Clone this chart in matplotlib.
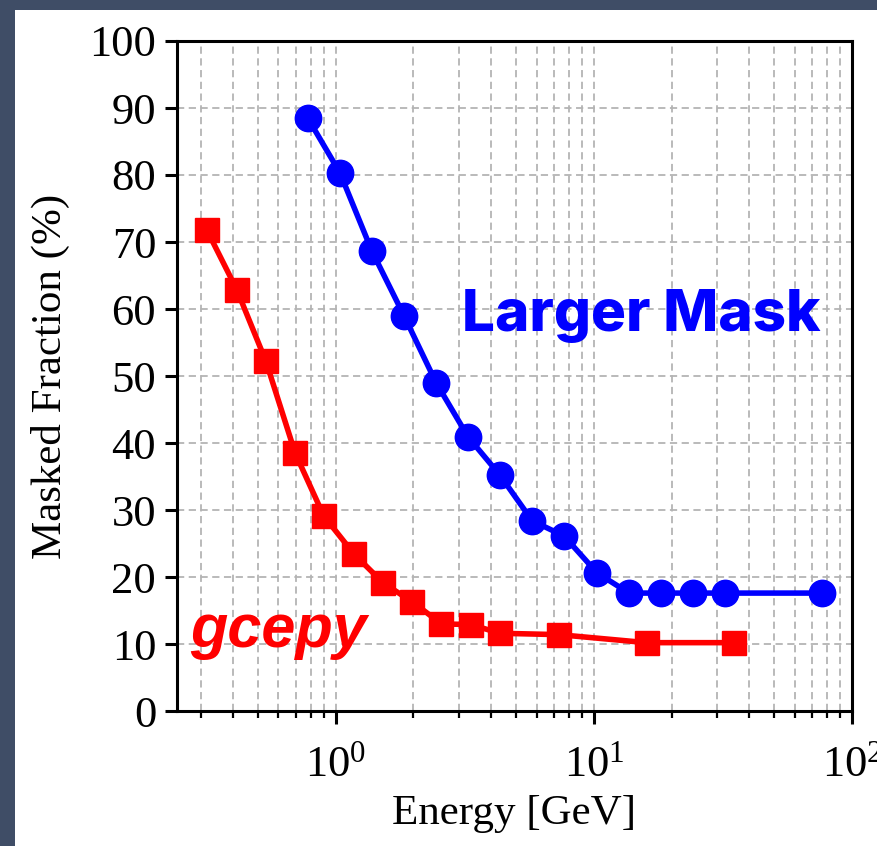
import numpy as np
import matplotlib
matplotlib.use('Agg')
import matplotlib.pyplot as plt
from matplotlib.patches import Rectangle
from matplotlib.ticker import LogLocator, NullFormatter

plt.rcParams['font.family'] = ['Liberation Serif', 'DejaVu Serif']
plt.rcParams['mathtext.fontset'] = 'custom'
plt.rcParams['mathtext.rm'] = 'Liberation Serif'
plt.rcParams['mathtext.it'] = 'Liberation Serif:italic'

# energy bins [GeV] and masked fraction [%]
larger_energy = [0.78, 1.04, 1.38, 1.84, 2.45, 3.26, 4.33, 5.77, 7.68,
                 10.3, 13.7, 18.2, 24.3, 32.3, 76.7]
larger_frac = [88.5, 80.3, 68.7, 59.0, 49.0, 40.9, 35.2, 28.4, 26.1,
               20.6, 17.6, 17.6, 17.6, 17.6, 17.6]

gcepy_energy = [0.317, 0.414, 0.537, 0.697, 0.90, 1.18, 1.53, 1.98, 2.57,
                3.34, 4.33, 7.3, 16.0, 35.0]
gcepy_frac = [71.8, 62.9, 52.2, 38.5, 29.1, 23.4, 19.1, 16.3, 13.0,
              12.9, 11.6, 11.4, 10.2, 10.2]

fig = plt.figure(figsize=(8.78, 8.46), dpi=100)
fig.patch.set_facecolor('#3f4d66')
# white page area inside the dark frame
fig.patches.append(Rectangle((15 / 878, 0), 1, 1 - 10 / 846,
                             transform=fig.transFigure,
                             facecolor='white', edgecolor='none', zorder=-10))

ax = fig.add_axes([177 / 878, 1 - 711 / 846, (852 - 177) / 878, (711 - 41) / 846])

ax.plot(larger_energy, larger_frac, '-o', color='#0000ff', lw=4,
        markersize=19, zorder=3)
ax.plot(gcepy_energy, gcepy_frac, '-s', color='#ff0000', lw=4,
        markersize=17.5, zorder=3)

ax.set_xscale('log')
ax.set_xlim(0.243, 100)
ax.set_ylim(0, 100)
ax.set_yticks(np.arange(0, 101, 10))
ax.xaxis.set_major_locator(LogLocator(base=10, numticks=10))
ax.xaxis.set_minor_locator(LogLocator(base=10, subs=np.arange(2, 10), numticks=10))
ax.xaxis.set_minor_formatter(NullFormatter())

grid_kw = dict(ls=(0, (4, 2.5)), color='#b4b4b4', lw=1.3)
ax.grid(True, which='major', axis='both', **grid_kw)
ax.grid(True, which='minor', axis='x', **grid_kw)
ax.set_axisbelow(True)

for s in ax.spines.values():
    s.set_linewidth(2.2)
ax.tick_params(which='major', direction='out', length=9, width=2.2,
               labelsize=32, pad=6)
ax.tick_params(which='minor', direction='out', length=5, width=1.6)
ax.tick_params(axis='x', which='major', pad=16)

ax.set_xlabel('Energy [GeV]', fontsize=31, labelpad=6)
ax.set_ylabel('Masked Fraction (%)', fontsize=31, labelpad=14)

ax.text(15.2, 59, 'Larger Mask', color='#0000ff', fontsize=42,
        fontweight='heavy', family=['Inter', 'DejaVu Sans'],
        ha='center', va='center')
ax.text(0.60, 9.6, 'gcepy', color='#ff0000', fontsize=44,
        fontweight='bold', fontstyle='italic',
        family=['Liberation Sans', 'DejaVu Sans'],
        ha='center', va='baseline')

fig.savefig('out.png', dpi=100, facecolor=fig.get_facecolor())
